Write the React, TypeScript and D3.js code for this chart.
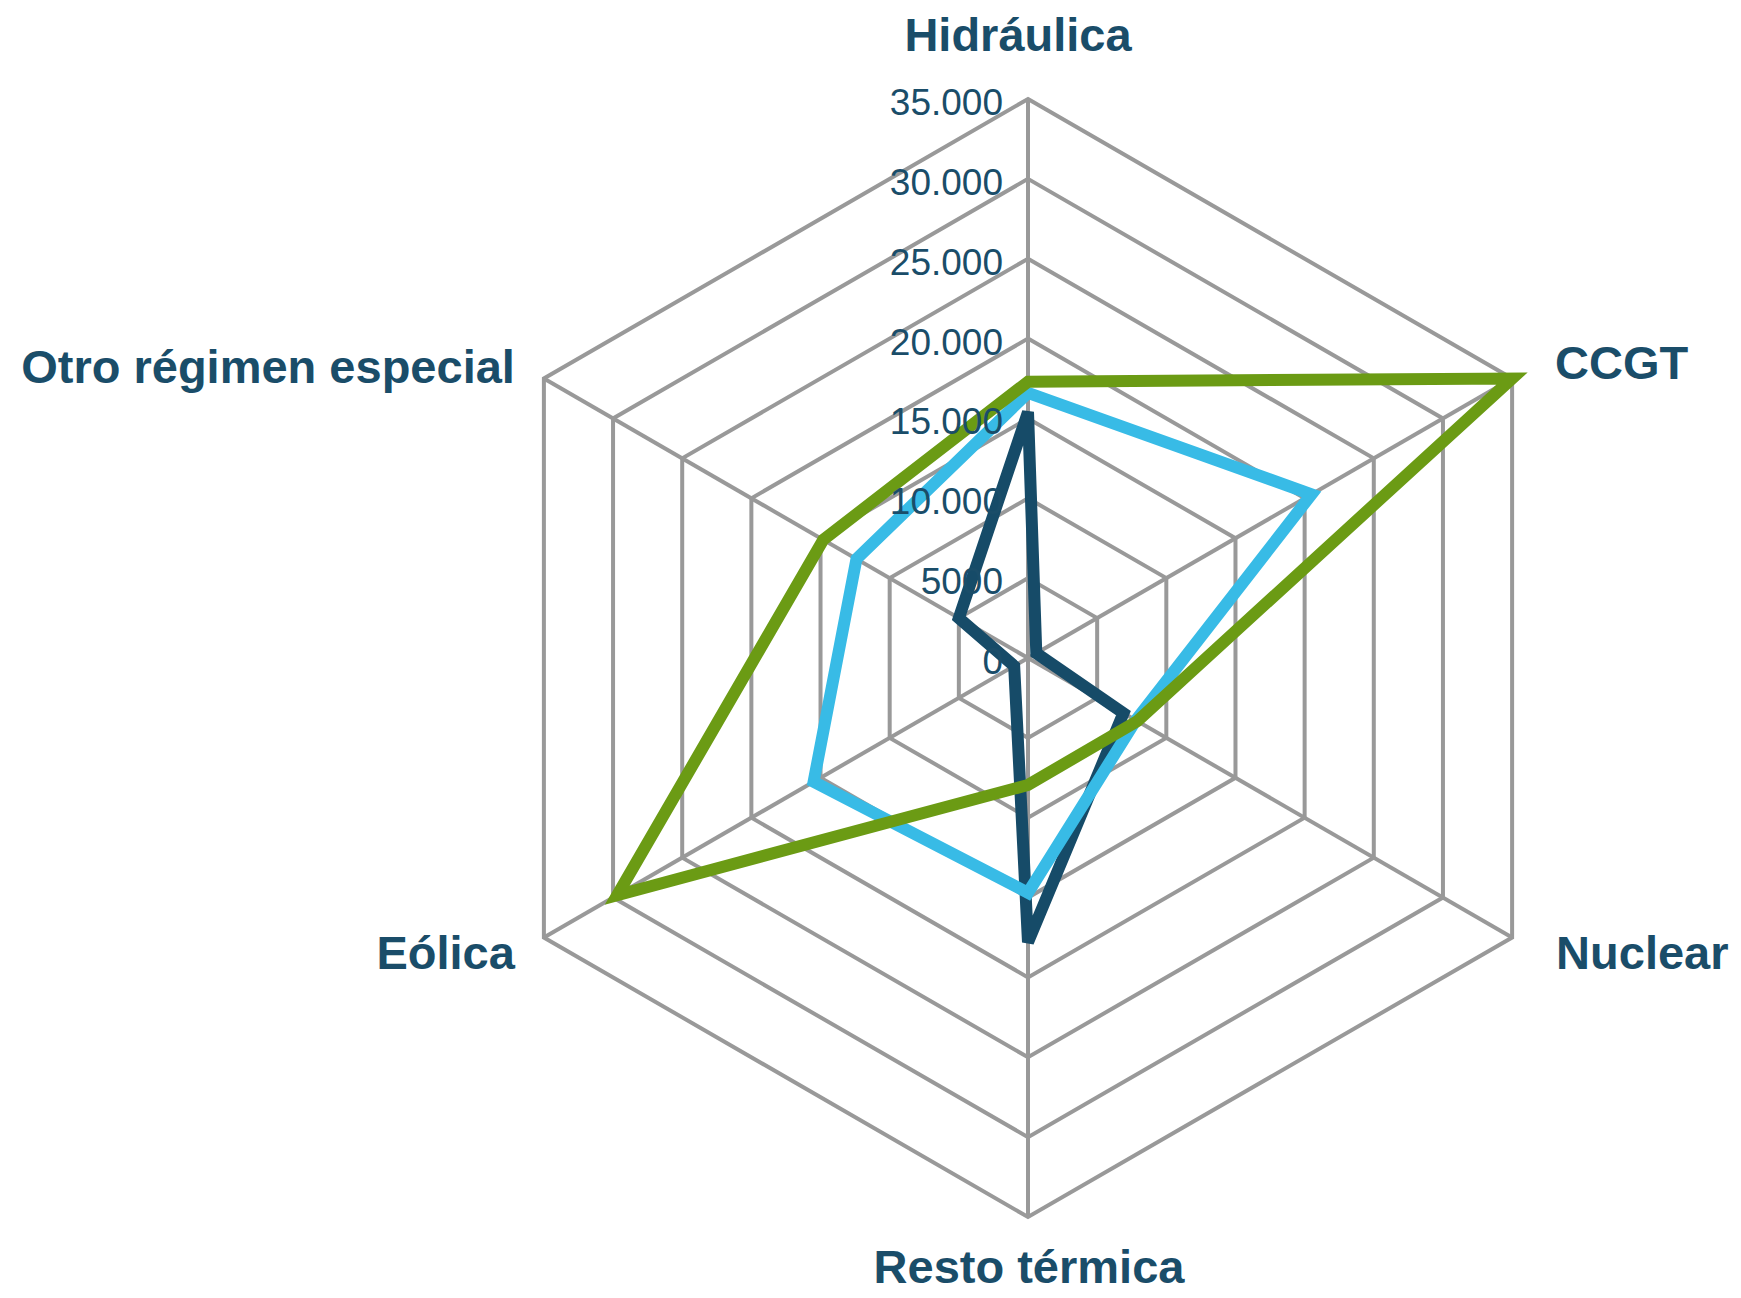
import React from "react";
import * as d3 from "d3";

// axes, clockwise from the top
const categories = [
  "Hidráulica",
  "CCGT",
  "Nuclear",
  "Resto térmica",
  "Eólica",
  "Otro régimen especial",
];

const seriesNames = ["Serie 1", "Serie 2", "Serie 3"];
const serieDark = [15400, 600, 6900, 17800, 1000, 5000];
const serieBlue = [16600, 20500, 7800, 14700, 15500, 12400];
const serieGreen = [17300, 35000, 7900, 7950, 29700, 14800];

const ticks = [0, 5000, 10000, 15000, 20000, 25000, 30000, 35000];

const WIDTH = 1741;
const HEIGHT = 1298;
const CX = 1028;
const CY = 658;
const RADIUS = 559;
const TEXT = "#1a4d69";
const GRID = "#999999";
const COLORS = ["#164b68", "#38bbe6", "#6b9b14"];

// label offsets from each outer vertex: [dx, dy, anchor]
const LABEL_POS: [number, number, string][] = [
  [-10, -48, "middle"],
  [43, 0, "start"],
  [44, 31, "start"],
  [1, 66, "middle"],
  [-29, 31, "end"],
  [-29, 4, "end"],
];

const fmt = (v: number) =>
  v >= 10000 ? d3.format(",")(v).replace(/,/g, ".") : String(v);

export default function App() {
  const r = d3.scaleLinear().domain([0, 35000]).range([0, RADIUS]);
  const angle = d3
    .scalePoint<string>()
    .domain(categories)
    .range([0, (2 * Math.PI * (categories.length - 1)) / categories.length]);

  const pt = (cat: string, v: number): [number, number] => {
    const a = angle(cat)!;
    return [CX + r(v) * Math.sin(a), CY - r(v) * Math.cos(a)];
  };

  const ring = (v: number) =>
    categories.map((c) => pt(c, v).join(",")).join(" ");

  const line = d3
    .lineRadial<number>()
    .angle((_, i) => angle(categories[i])!)
    .radius((d) => r(d))
    .curve(d3.curveLinearClosed);

  const allSeries = [serieDark, serieBlue, serieGreen];

  return (
    <svg
      width={WIDTH}
      height={HEIGHT}
      style={{ position: "absolute", left: 0, top: 0, background: "#fff" }}
      fontFamily="'Liberation Sans', Arial, sans-serif"
    >
      <g stroke={GRID} strokeWidth={4} fill="none">
        {ticks.slice(1).map((t) => (
          <polygon key={t} points={ring(t)} />
        ))}
        {categories.map((c) => {
          const [x, y] = pt(c, 35000);
          return <line key={c} x1={CX} y1={CY} x2={x} y2={y} />;
        })}
      </g>

      <g transform={`translate(${CX},${CY})`}>
        {allSeries.map((s, i) => (
          <path
            key={seriesNames[i]}
            d={line(s) || ""}
            fill="none"
            stroke={COLORS[i]}
            strokeWidth={12}
            strokeLinejoin="miter"
          />
        ))}
      </g>

      <g fill={TEXT} fontSize={37} textAnchor="end">
        {ticks.map((t) => (
          <text key={t} x={CX - 25} y={CY - r(t) + 16}>
            {fmt(t)}
          </text>
        ))}
      </g>

      <g fill={TEXT} fontWeight="bold" fontSize={47}>
        {categories.map((c, i) => {
          const [x, y] = pt(c, 35000);
          const [dx, dy, anchor] = LABEL_POS[i];
          return (
            <text key={c} x={x + dx} y={y + dy} textAnchor={anchor as any}>
              {c}
            </text>
          );
        })}
      </g>
    </svg>
  );
}
